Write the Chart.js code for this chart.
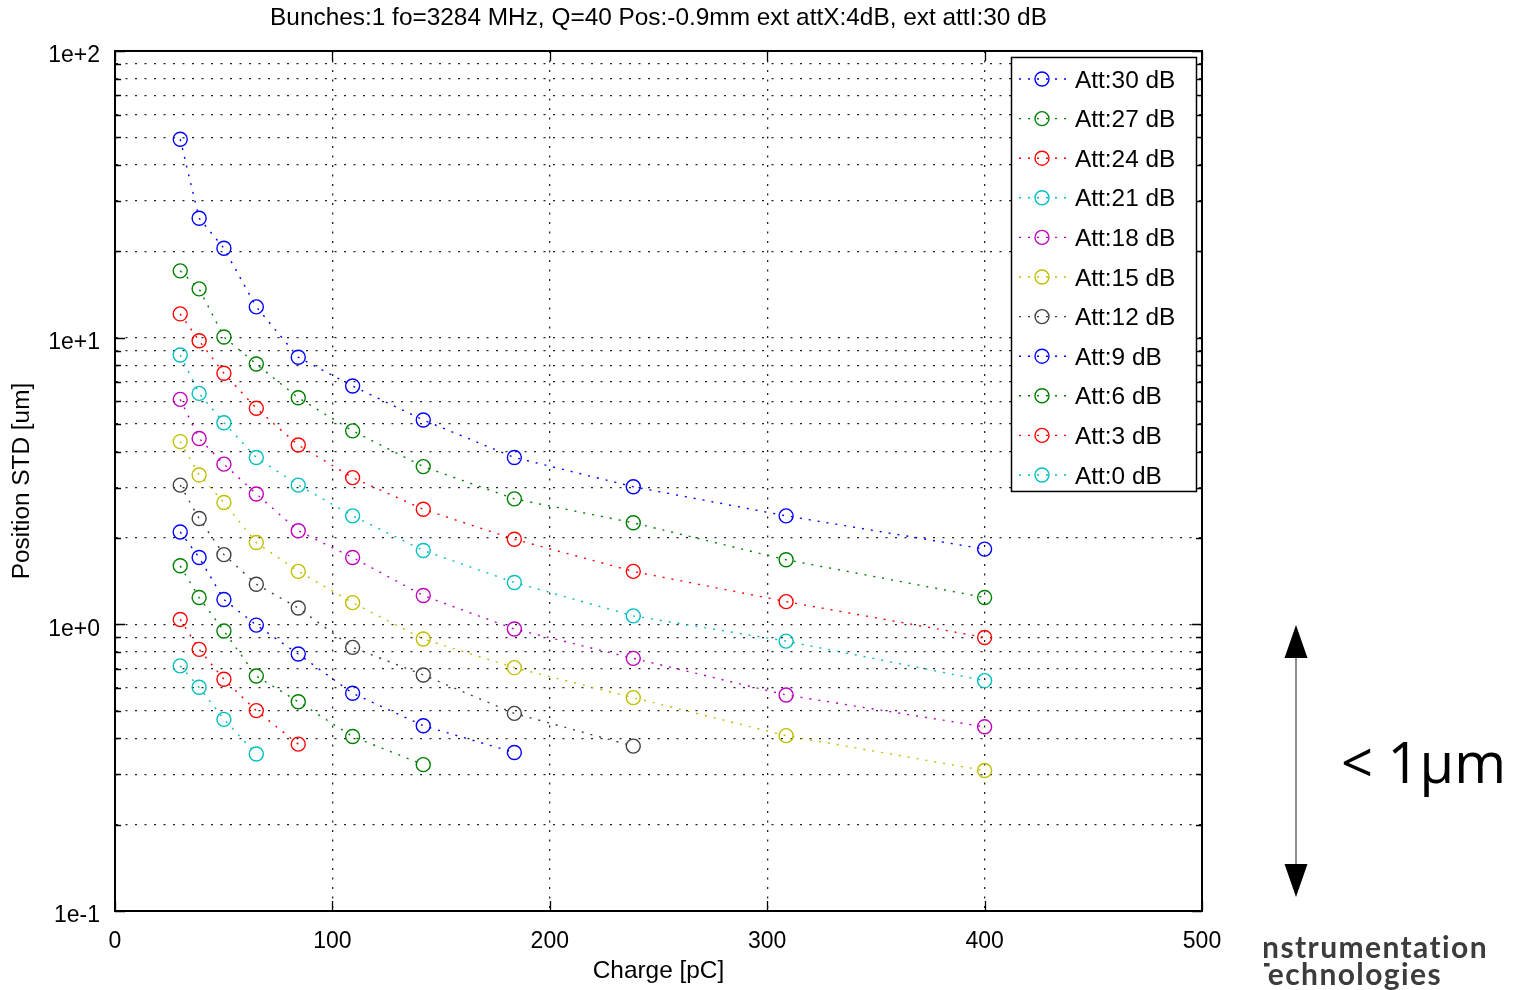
<!DOCTYPE html>
<html>
<head>
<meta charset="utf-8">
<title>Position STD vs Charge</title>
<script src="https://cdn.jsdelivr.net/npm/chart.js@4.4.1/dist/chart.umd.min.js"></script>
<style>
  html, body { margin: 0; padding: 0; background: #fff; }
  #wrap { position: relative; width: 1521px; height: 990px; overflow: hidden; background: #fff; }
  #chart { position: absolute; left: 0; top: 0; }
  #arrow { position: absolute; left: 1270px; top: 620px; }
  .note { position: absolute; left: 1341px; top: 733px; font-family: "Open Sans", sans-serif; font-size: 56px; line-height: 1; color: #000; white-space: nowrap; }
  .logo { position: absolute; left: 1264px; top: 933px; width: 257px; height: 57px; overflow: hidden; }
  .logo div { margin-left: -12px; font-family: Lato, sans-serif; font-weight: 700; font-size: 30px; letter-spacing: 1.4px; line-height: 27px; color: #3c3c3c; white-space: nowrap; }
</style>
</head>
<body>
<div id="wrap">
  <canvas id="chart" width="1521" height="990"></canvas>
  <svg id="arrow" width="52" height="285" viewBox="0 0 52 285">
    <line x1="26" y1="30" x2="26" y2="250" stroke="#444" stroke-width="1.2"/>
    <polygon points="26,5 14.5,38 37.5,38" fill="#000"/>
    <polygon points="26,277 14.5,244 37.5,244" fill="#000"/>
  </svg>
  <div class="note">&lt; 1µm</div>
  <div class="logo"><div>Instrumentation</div><div>Technologies</div></div>
</div>
<script>
// Bunch charge [pC] for each measurement point
const charge = [30, 38.7, 50.1, 65, 84.3, 109.3, 141.8, 183.7, 238.4, 308.7, 400];

// Position STD [um] per attenuator setting
const att30 = [49.2, 26.1, 20.5, 12.8, 8.54, 6.78, 5.16, 3.82, 3.02, 2.39, 1.83];
const att27 = [17.1, 14.8, 10.05, 8.09, 6.17, 4.73, 3.55, 2.74, 2.26, 1.68, 1.24];
const att24 = [12.1, 9.75, 7.51, 5.67, 4.22, 3.25, 2.52, 1.98, 1.53, 1.20, 0.90];
const att21 = [8.70, 6.39, 5.05, 3.82, 3.06, 2.39, 1.81, 1.40, 1.07, 0.874, 0.636];
const att18 = [6.09, 4.45, 3.62, 2.85, 2.12, 1.71, 1.26, 0.963, 0.761, 0.567, 0.439];
const att15 = [4.34, 3.32, 2.66, 1.93, 1.53, 1.19, 0.889, 0.706, 0.555, 0.409, 0.309];
const att12 = [3.06, 2.34, 1.75, 1.38, 1.14, 0.831, 0.666, 0.489, 0.376];
const att9  = [2.10, 1.71, 1.22, 0.994, 0.788, 0.575, 0.443, 0.357];
const att6  = [1.60, 1.24, 0.948, 0.660, 0.537, 0.406, 0.324];
const att3  = [1.04, 0.818, 0.643, 0.500, 0.382];
const att0  = [0.716, 0.603, 0.466, 0.353];

const seriesLabels = ['Att:30 dB', 'Att:27 dB', 'Att:24 dB', 'Att:21 dB', 'Att:18 dB', 'Att:15 dB',
                      'Att:12 dB', 'Att:9 dB', 'Att:6 dB', 'Att:3 dB', 'Att:0 dB'];
const seriesValues = [att30, att27, att24, att21, att18, att15, att12, att9, att6, att3, att0];

// Axis ticks
const xTickStep = 100;
const yMajorValues = [0.1, 1, 10, 100];
const yMajorLabels = ['1e-1', '1e+0', '1e+1', '1e+2'];

const seriesColors = ['#0000ff', '#008000', '#ff0000', '#00bfbf', '#bf00bf', '#bfbf00',
                      '#404040', '#0000ff', '#008000', '#ff0000', '#00bfbf'];

const FONT = '"Liberation Sans", Arial, Helvetica, sans-serif';
const FS_TICK = 23;
const FS_TEXT = 24.4;
const LINE_DASH = [2, 7];
const GRID_DASH = [2, 7.5];

// Log grid: every integer multiple inside each decade
const yTickValues = [];
for (let d = 0; d < yMajorValues.length; d++) {
  const base = yMajorValues[d];
  yTickValues.push(base);
  if (d < yMajorValues.length - 1) {
    for (let m = 2; m <= 9; m++) yTickValues.push(+(base * m).toPrecision(6));
  }
}
const isMajor = v => yMajorValues.some(m => Math.abs(v - m) / m < 1e-6);

// Box, inward tick marks and boxed legend
const framePlugin = {
  id: 'frame',
  afterDatasetsDraw(chart) {
    const {ctx, chartArea: a, scales: {x, y}} = chart;
    ctx.save();
    ctx.strokeStyle = '#000';
    ctx.lineWidth = 1.3;
    ctx.setLineDash([]);
    ctx.beginPath();
    y.ticks.forEach(t => {
      const py = Math.round(y.getPixelForValue(t.value)) + 0.5;
      const len = isMajor(t.value) ? 10 : 6;
      ctx.moveTo(a.left, py); ctx.lineTo(a.left + len, py);
      ctx.moveTo(a.right, py); ctx.lineTo(a.right - len, py);
    });
    x.ticks.forEach(t => {
      const px = Math.round(x.getPixelForValue(t.value)) + 0.5;
      ctx.moveTo(px, a.bottom); ctx.lineTo(px, a.bottom - 10);
      ctx.moveTo(px, a.top); ctx.lineTo(px, a.top + 10);
    });
    ctx.stroke();
    ctx.lineWidth = 2;
    ctx.strokeRect(a.left, a.top, a.right - a.left, a.bottom - a.top);
    ctx.restore();
  },
  afterDraw(chart) {
    const {ctx, chartArea: a} = chart;
    const sets = chart.data.datasets;
    const w = 185, rowH = 39.6, h = 434;
    const left = a.right - 191, top = a.top + 6;
    ctx.save();
    ctx.fillStyle = '#fff';
    ctx.fillRect(left, top, w, h);
    ctx.strokeStyle = '#000';
    ctx.lineWidth = 1.5;
    ctx.strokeRect(left + 0.5, top + 0.5, w, h);
    ctx.font = `${FS_TEXT}px ${FONT}`;
    ctx.textBaseline = 'middle';
    ctx.textAlign = 'left';
    sets.forEach((ds, i) => {
      const cy = top + 22 + i * rowH;
      ctx.strokeStyle = ds.borderColor;
      ctx.lineWidth = 1.4;
      ctx.setLineDash(LINE_DASH);
      ctx.beginPath();
      ctx.moveTo(left + 8, cy); ctx.lineTo(left + 58, cy);
      ctx.stroke();
      ctx.setLineDash([]);
      ctx.beginPath();
      ctx.arc(left + 31, cy, 7, 0, Math.PI * 2);
      ctx.stroke();
      ctx.fillStyle = '#000';
      ctx.fillText(ds.label, left + 64, cy + 2);
    });
    ctx.restore();
  }
};

const tickFont = {family: FONT, size: FS_TICK};
const textFont = {family: FONT, size: FS_TEXT};

new Chart(document.getElementById('chart'), {
  type: 'line',
  data: {
    datasets: seriesValues.map((vals, i) => ({
      label: seriesLabels[i],
      data: vals.map((v, j) => ({x: charge[j], y: v})),
      borderColor: seriesColors[i],
      backgroundColor: 'rgba(0,0,0,0)',
      borderWidth: 1.4,
      borderDash: LINE_DASH,
      pointRadius: 7,
      pointBorderWidth: 1.4,
      pointBackgroundColor: 'rgba(0,0,0,0)',
      pointBorderColor: seriesColors[i],
      tension: 0,
      fill: false
    }))
  },
  options: {
    responsive: false,
    animation: false,
    events: [],
    layout: {padding: {left: 0, top: 0, right: 319, bottom: 0}},
    plugins: {
      legend: {display: false},
      tooltip: {enabled: false},
      title: {
        display: true,
        fullSize: false,
        text: 'Bunches:1 fo=3284 MHz, Q=40 Pos:-0.9mm ext attX:4dB, ext attI:30 dB',
        color: '#000',
        font: {family: FONT, size: FS_TEXT, weight: 'normal'},
        padding: {top: 3.4, bottom: 18.3}
      }
    },
    scales: {
      x: {
        type: 'linear',
        min: 0,
        max: 500,
        ticks: {stepSize: xTickStep, padding: 17, color: '#000', font: tickFont},
        grid: {color: '#222', lineWidth: 1.3, drawTicks: false},
        border: {display: true, color: '#000', width: 2, dash: GRID_DASH},
        title: {display: true, text: 'Charge [pC]', color: '#000', font: textFont, padding: {top: 0, bottom: 4.4}},
        afterFit: s => { s.height = 79; }
      },
      y: {
        type: 'logarithmic',
        min: 0.1,
        max: 100,
        afterBuildTicks: s => { s.ticks = yTickValues.map(v => ({value: v})); },
        ticks: {
          autoSkip: false,
          padding: 15,
          labelOffset: 5,
          color: '#000',
          font: tickFont,
          callback: v => {
            const k = yMajorValues.findIndex(m => Math.abs(v - m) / m < 1e-6);
            return k >= 0 ? yMajorLabels[k] : '';
          }
        },
        grid: {color: '#222', lineWidth: 1.3, drawTicks: false},
        border: {display: true, color: '#000', width: 2, dash: GRID_DASH},
        title: {display: true, text: 'Position STD [um]', color: '#000', font: textFont, padding: {top: 7.4, bottom: 0}},
        afterFit: s => { s.width = 115; }
      }
    }
  },
  plugins: [framePlugin]
});
</script>
</body>
</html>
